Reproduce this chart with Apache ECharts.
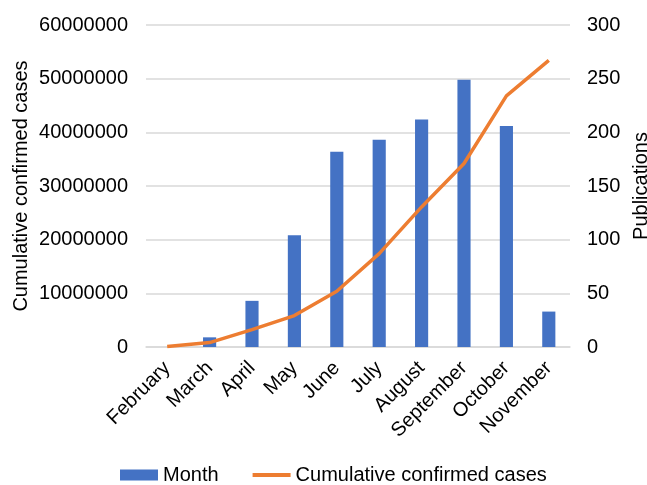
<!DOCTYPE html>
<html>
<head>
<meta charset="utf-8">
<script src="https://cdn.jsdelivr.net/npm/echarts@6/dist/echarts.min.js"></script>
<style>html,body{margin:0;padding:0;background:#fff}#c{width:647px;height:485px}</style>
</head>
<body>
<div id="c"></div>
<script>
const months = ['February','March','April','May','June','July','August','September','October','November'];
const publications = [0, 9, 43, 104, 182, 193, 212, 249, 206, 33];
const cumulativeCases = [85000, 820000, 3240000, 5850000, 10400000, 17400000, 26100000, 34200000, 46800000, 53400000];
const leftTicks = [0, 60000000, 10000000];
const rightTicks = [0, 300, 50];

const font = 'Liberation Sans, Arial, sans-serif';
const FS = 20;
const chart = echarts.init(document.getElementById('c'));
chart.setOption({
  animation: false,
  textStyle: { fontFamily: font },
  grid: { left: 146, right: 77, top: 25, bottom: 138, containLabel: false, outerBoundsMode: 'none' },
  legend: {
    left: 120, top: 465, padding: 0,
    itemWidth: 38, itemHeight: 11, itemGap: 32,
    textStyle: { fontSize: FS, color: '#000', fontFamily: font },
    data: [
      { name: 'Month', icon: 'rect' },
      { name: 'Cumulative confirmed cases', itemStyle: { opacity: 0 }, lineStyle: { width: 4 } }
    ]
  },
  xAxis: {
    type: 'category',
    data: months,
    axisTick: { show: false },
    axisLine: { lineStyle: { color: '#d9d9d9', width: 1.5 } },
    axisLabel: { rotate: 45, fontSize: FS, color: '#000', margin: 18, interval: 0, fontFamily: font }
  },
  yAxis: [
    {
      type: 'value', min: leftTicks[0], max: leftTicks[1], interval: leftTicks[2],
      name: 'Cumulative confirmed cases', nameLocation: 'middle', nameRotate: 90, nameGap: 115,
      nameMoveOverlap: false,
      nameTextStyle: { fontSize: FS, color: '#000', fontFamily: font },
      axisLine: { show: false }, axisTick: { show: false },
      axisLabel: { fontSize: FS, color: '#000', margin: 18, fontFamily: font, formatter: v => String(v) },
      splitLine: { lineStyle: { color: '#d9d9d9', width: 1.5 } }
    },
    {
      type: 'value', min: rightTicks[0], max: rightTicks[1], interval: rightTicks[2],
      name: 'Publications', nameLocation: 'middle', nameRotate: 90, nameGap: 58,
      nameTextStyle: { fontSize: FS, color: '#000', fontFamily: font },
      axisLine: { show: false }, axisTick: { show: false },
      axisLabel: { fontSize: FS, color: '#000', margin: 17, fontFamily: font, formatter: v => String(v) },
      splitLine: { show: false }
    }
  ],
  series: [
    {
      name: 'Month', type: 'bar', yAxisIndex: 1, data: publications,
      barWidth: '31%', itemStyle: { color: '#4472C4' }
    },
    {
      name: 'Cumulative confirmed cases', type: 'line', yAxisIndex: 0, data: cumulativeCases,
      showSymbol: false, symbol: 'none',
      lineStyle: { color: '#ED7D31', width: 3.5 }, itemStyle: { color: '#ED7D31' }
    }
  ]
});
</script>
</body>
</html>
